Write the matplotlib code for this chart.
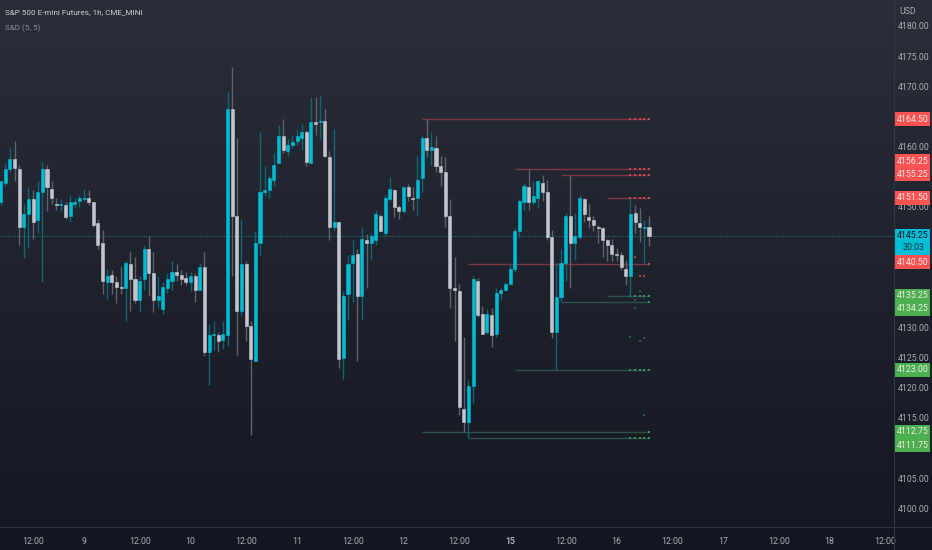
import numpy as np
import matplotlib
matplotlib.use("Agg")
import matplotlib.pyplot as plt
from matplotlib.patches import Rectangle
from matplotlib.transforms import blended_transform_factory
from matplotlib.colors import LinearSegmentedColormap

plt.rcParams['font.family'] = ['Roboto', 'DejaVu Sans']

# hourly OHLC
opens = [
    4150.75, 4154, 4156.25, 4158, 4156.25, 4146.75, 4148.75, 4151.25, 4147.75, 4152.5,
    4156.25, 4153, 4150.5, 4150.25, 4150.25, 4148.5, 4150.5, 4151, 4151.25, 4151.5,
    4150.75, 4147.25, 4144, 4137.5, 4138.75, 4137.5, 4136.75, 4136.5, 4140.5, 4138,
    4134.5, 4138, 4143, 4139, 4134.5, 4133, 4136.5, 4137.75, 4139.25, 4138.75,
    4138.25, 4137.5, 4138.5, 4136.25, 4140, 4126, 4128.75, 4128.75, 4128, 4128.75,
    4166.25, 4148.5, 4132.75, 4140.5, 4130.25, 4124.5, 4144, 4152.5, 4152.75, 4154.5,
    4157.25, 4161.75, 4159.25, 4160.25, 4161, 4161.5, 4162.5, 4157.25, 4164, 4164,
    4164.25, 4158.25, 4146.75, 4147.5, 4125, 4135.5, 4140.75, 4142.25, 4135.25, 4144.5,
    4144, 4144.5, 4148.5, 4145.75, 4151.25, 4152.75, 4150, 4149.25, 4153.25, 4151.5,
    4151.5, 4154.75, 4161.5, 4159.5, 4159.75, 4156.75, 4155.75, 4148.5, 4136.5, 4136,
    4116.5, 4114.25, 4120.25, 4137.75, 4132.25, 4129.25, 4132, 4129, 4135.75, 4136.25,
    4137.25, 4139.75, 4146, 4150.75, 4153.25, 4150.75, 4151.5, 4154, 4152.5, 4145,
    4129.25, 4135, 4140.75, 4148.5, 4144, 4145, 4151.25, 4148.25, 4147.75, 4146.75,
    4146.5, 4144.5, 4143.75, 4142.25, 4142, 4139.75, 4138.5, 4149, 4147.25, 4146.5,
    4146.75,
]
highs = [
    4154.25, 4157.25, 4159.75, 4161, 4157, 4150.5, 4153.25, 4152.75, 4154.25, 4157.5,
    4157, 4154.25, 4151.5, 4151.25, 4150.75, 4152, 4151.5, 4152, 4153, 4152.75,
    4150.75, 4148, 4146.25, 4139.75, 4139.5, 4138.5, 4140.25, 4141, 4142.75, 4141.75,
    4138.5, 4143.75, 4145.25, 4142.5, 4138.5, 4137.5, 4139, 4141, 4140.5, 4139.5,
    4139.25, 4139.25, 4139, 4140.75, 4142.5, 4130.5, 4131, 4129.25, 4131, 4169,
    4173.25, 4161.5, 4148, 4141, 4131, 4146, 4162.5, 4156.75, 4155.25, 4159,
    4163.5, 4164.5, 4161.25, 4162, 4162.75, 4163.75, 4162.75, 4168.25, 4168.25, 4168.5,
    4166.25, 4159.25, 4163, 4147.5, 4136, 4142, 4144.5, 4143, 4146.75, 4145.5,
    4145.75, 4149.5, 4148.75, 4152, 4155, 4153, 4150.25, 4153.25, 4153.75, 4153.25,
    4158.5, 4162, 4164.5, 4162.5, 4161.75, 4158.5, 4158.25, 4151.25, 4141.75, 4137.25,
    4128.5, 4121.25, 4138.5, 4138.25, 4133.5, 4133, 4133.25, 4136.5, 4136.5, 4137.5,
    4140.5, 4146.5, 4151.25, 4154, 4156.25, 4154.25, 4154.5, 4155.25, 4154.5, 4146.25,
    4140.75, 4143, 4149, 4155.25, 4149, 4152, 4151.5, 4150.5, 4148.5, 4147,
    4146.75, 4144.75, 4144.75, 4143.25, 4142.5, 4141.25, 4151.5, 4150.25, 4149.75, 4147.75,
    4148.5,
]
lows = [
    4150.25, 4153.5, 4155.75, 4154.25, 4143.75, 4141.5, 4143.25, 4144.75, 4145.75, 4137.5,
    4149.25, 4150.5, 4149.5, 4149.25, 4148, 4147.5, 4149.75, 4150, 4151, 4150.25,
    4146.75, 4143, 4135.5, 4134.75, 4135.5, 4134, 4135.5, 4131, 4132.75, 4134,
    4132.5, 4136.25, 4135.25, 4132.5, 4133.25, 4132.25, 4135.75, 4136.25, 4137.75, 4137,
    4137, 4136, 4134.25, 4136.25, 4125.25, 4120.5, 4126.25, 4126, 4126.5, 4127,
    4138.5, 4125.5, 4132, 4127.75, 4112.25, 4124.5, 4142, 4151.75, 4151.5, 4153.5,
    4157.25, 4159, 4158.5, 4159.75, 4160.25, 4159.5, 4156.75, 4157.25, 4162, 4161.25,
    4158.25, 4144.5, 4146, 4123.25, 4121.5, 4131.25, 4134.25, 4124.5, 4131.25, 4136.5,
    4141.25, 4143.75, 4146, 4145.25, 4151, 4148.25, 4148, 4149, 4151, 4149.5,
    4148.5, 4152.5, 4158.25, 4157, 4155.75, 4153.5, 4146.75, 4133.25, 4127.75, 4115.5,
    4112.75, 4111.75, 4117.5, 4131.75, 4129, 4129, 4126.75, 4128.5, 4134.5, 4136,
    4137.25, 4139.25, 4145, 4149.5, 4149.5, 4150.25, 4149.75, 4151, 4144.5, 4128.25,
    4123, 4134.25, 4137.75, 4136.5, 4141.25, 4144.75, 4147.5, 4146.5, 4146, 4144,
    4141.75, 4141, 4141, 4141, 4139.5, 4137, 4135, 4145.75, 4144.25, 4140.75,
    4143.5,
]
closes = [
    4154.25, 4156.25, 4158, 4156.5, 4146.75, 4148.75, 4151.25, 4147.5, 4152.5, 4156.25,
    4153.25, 4151.5, 4150.25, 4150.5, 4148.25, 4150.75, 4150.75, 4151.5, 4151.5, 4150.75,
    4147, 4143.75, 4137.75, 4138.5, 4137.5, 4136.75, 4136.5, 4140.75, 4138, 4134.5,
    4137.75, 4143, 4139, 4134.5, 4135.25, 4136.75, 4138, 4139.25, 4138.75, 4138,
    4137.5, 4138.5, 4136.25, 4140, 4126, 4128.75, 4129, 4127.75, 4129, 4166.25,
    4148.5, 4132.75, 4140.5, 4130.25, 4124.75, 4144, 4152.5, 4152.75, 4154.75, 4157,
    4161.75, 4159.5, 4160.25, 4160.75, 4161.75, 4162.5, 4157.5, 4164, 4163.75, 4164.25,
    4158.5, 4146.75, 4147.5, 4124.75, 4135.25, 4140.5, 4142, 4135.25, 4144.75, 4144,
    4145.25, 4148.75, 4146, 4151.5, 4153, 4150, 4149.25, 4153.25, 4151.75, 4151.25,
    4154.5, 4161.5, 4159.5, 4160, 4156.75, 4155.75, 4148.5, 4136.5, 4136.25, 4116.75,
    4114.25, 4120.25, 4138, 4132, 4129, 4132.25, 4128.75, 4135.75, 4136.25, 4137.25,
    4139.75, 4146, 4151, 4153.5, 4150.75, 4151.75, 4154.25, 4152.5, 4145, 4129.25,
    4135, 4140.75, 4148.5, 4144, 4145.25, 4151.5, 4148.75, 4147.75, 4147, 4146.5,
    4144.5, 4143.75, 4142.25, 4142, 4140, 4138.5, 4148.75, 4147.5, 4146.75, 4146.75,
    4145.25,
]

# supply / demand levels: price, first bar, has dots on the last five bars
red_levels = [4164.5, 4156.25, 4155.25, 4151.5, 4140.5]
red_starts = [91, 111, 121, 131, 101]
red_dotted = [True, True, True, True, False]
green_levels = [4135.25, 4134.25, 4123.0, 4112.75, 4111.75]
green_starts = [131, 121, 111, 91, 101]
green_dotted = [True, False, True, False, True]

# loose dots near the last bars
red_dot_bars = [137, 138, 139]
red_dot_prices = [4141.75, 4138.5, 4138.5]
green_dot_bars = [138, 137, 137, 136, 139, 138, 139]
green_dot_prices = [4136, 4134.5, 4133.25, 4128.5, 4128.25, 4127.75, 4115.5]

last_price = 4145.25
countdown = "30:03"

# the other round prices sit behind the coloured labels
price_ticks = [4100, 4105, 4115, 4120, 4125, 4130, 4150, 4160, 4170, 4175, 4180]
time_tick_bars = [7, 18, 30, 41, 53, 64, 76, 87, 99, 110, 122, 133, 145, 156, 168, 179, 191]
time_tick_labels = ["12:00", "9", "12:00", "10", "12:00", "11", "12:00", "12", "12:00",
                    "15", "12:00", "16", "12:00", "17", "12:00", "18", "12:00"]

UP = "#00bcd4"
DOWN = "#c3c6ce"
UP_WICK = "#0b6675"
DOWN_WICK = "#5f626b"
RED = "#ff5252"
GREEN = "#4caf50"
RED_LINE = "#7c3440"
GREEN_LINE = "#2c5148"
TEXT = "#a8abb3"
LABEL_SIZE = 6.3

W, H = 932, 550
PANE_R, PANE_B = 894, 527

fig = plt.figure(figsize=(W / 100, H / 100), dpi=100)

# background gradient
bg = fig.add_axes([0, 0, 1, 1], zorder=0)
cmap = LinearSegmentedColormap.from_list("bg", ["#2a2e39", "#131722"])
bg.imshow(np.linspace(0, 1, 256).reshape(-1, 1), aspect="auto", cmap=cmap)
bg.axis("off")

ax = fig.add_axes([0, 1 - PANE_B / H, PANE_R / W, PANE_B / H], zorder=1)
ax.patch.set_alpha(0)
ax.set_xlim(-0.145, 192.9)
ax.set_ylim(4096.92, 4184.31)
for s in ax.spines.values():
    s.set_visible(False)

o = np.array(opens)
c = np.array(closes)
x = np.arange(len(o))
up = c >= o

ax.axhline(last_price, color="#1f7f8e", lw=0.7, ls=(0, (1, 1.5)), zorder=1)

# levels sit under the candles
for price, start, dotted in zip(red_levels, red_starts, red_dotted):
    ax.hlines(price, start, x[-1], color=RED_LINE, lw=1, zorder=1.5)
    ax.plot(x[-5:] if dotted else x[-1:], [price] * (5 if dotted else 1), ls="none", marker="s",
            ms=2.0, mew=0, color="#c9444e", zorder=1.6)
for price, start, dotted in zip(green_levels, green_starts, green_dotted):
    ax.hlines(price, start, x[-1], color=GREEN_LINE, lw=1, zorder=1.5)
    ax.plot(x[-5:] if dotted else x[-1:], [price] * (5 if dotted else 1), ls="none", marker="s",
            ms=2.0, mew=0, color="#3f8a5c", zorder=1.6)
ax.plot(red_dot_bars, red_dot_prices, ls="none", marker="s", ms=2.0, mew=0, color="#b03c46", zorder=1.6)
ax.plot(green_dot_bars, green_dot_prices, ls="none", marker="s", ms=1.7, mew=0, color="#2c5a48", zorder=1.6)

# candles
ax.vlines(x, lows, highs, colors=[UP_WICK if u else DOWN_WICK for u in up], lw=1, zorder=2)
colors = [UP if u else DOWN for u in up]
ax.bar(x, np.abs(c - o), bottom=np.minimum(o, c), width=0.66, color=colors,
       edgecolor=colors, lw=0.4, zorder=3)

ax.yaxis.tick_right()
ax.set_yticks(price_ticks)
ax.set_yticklabels([f"{p:.2f}" for p in price_ticks])
ax.tick_params(axis="y", length=0, pad=2.9, labelsize=LABEL_SIZE, labelcolor=TEXT)
ax.set_xticks(time_tick_bars)
ax.set_xticklabels(time_tick_labels)
ax.tick_params(axis="x", length=0, pad=7.5, labelsize=LABEL_SIZE, labelcolor=TEXT)
for lab in ax.get_xticklabels():
    if lab.get_text() == "15":
        lab.set_fontweight("bold")

# pane borders
fig.add_artist(plt.Line2D([PANE_R / W] * 2, [0, 1], color="#343843", lw=0.8))
fig.add_artist(plt.Line2D([0, 1], [1 - PANE_B / H] * 2, color="#2d313c", lw=0.8))

# price labels on the axis, nudged where they would overlap
trans = blended_transform_factory(fig.transFigure, ax.transData)
box_h = 14 / 6.03


def price_label(price, color, nudge=0.0, txt_color="#f4e9e9"):
    y = price + nudge
    ax.add_patch(Rectangle((PANE_R / W, y - box_h / 2), 36 / W, box_h, transform=trans,
                           facecolor=color, edgecolor="none", clip_on=False, zorder=5))
    ax.text(913 / W, y, f"{price:.2f}", transform=trans, ha="center", va="center",
            fontsize=LABEL_SIZE, color=txt_color, clip_on=False, zorder=6)


red_nudges = [0, 1.35, 0.15, 0, 0.35]
green_nudges = [0, -1.15, 0, -0.05, -1.25]
for price, nudge in zip(red_levels, red_nudges):
    price_label(price, RED, nudge)
for price, nudge in zip(green_levels, green_nudges):
    price_label(price, GREEN, nudge)

# last price block with countdown
ax.add_patch(Rectangle((PANE_R / W, last_price - 19.5 / 6.03), 36 / W, 26.5 / 6.03, transform=trans,
                       facecolor=UP, edgecolor="none", clip_on=False, zorder=5))
ax.text(913 / W, last_price, f"{last_price:.2f}", transform=trans, ha="center", va="center",
        fontsize=LABEL_SIZE, color="#10141c", clip_on=False, zorder=6)
ax.text(913 / W, last_price - 11.5 / 6.03, countdown, transform=trans, ha="center", va="center",
        fontsize=LABEL_SIZE, color="#10343c", clip_on=False, zorder=6)

fig.text(5 / W, 1 - 12.5 / H, "S&P 500 E-mini Futures, 1h, CME_MINI", fontsize=5.9,
         color="#c9cbd1", va="center", zorder=7)
fig.text(5 / W, 1 - 28 / H, "S&D (5, 5)", fontsize=5.9, color="#8a8d96", va="center", zorder=7)
fig.text(899 / W, 1 - 11 / H, "USD", fontsize=LABEL_SIZE, color=TEXT, va="center", zorder=7)

fig.savefig("out.png", dpi=100)
